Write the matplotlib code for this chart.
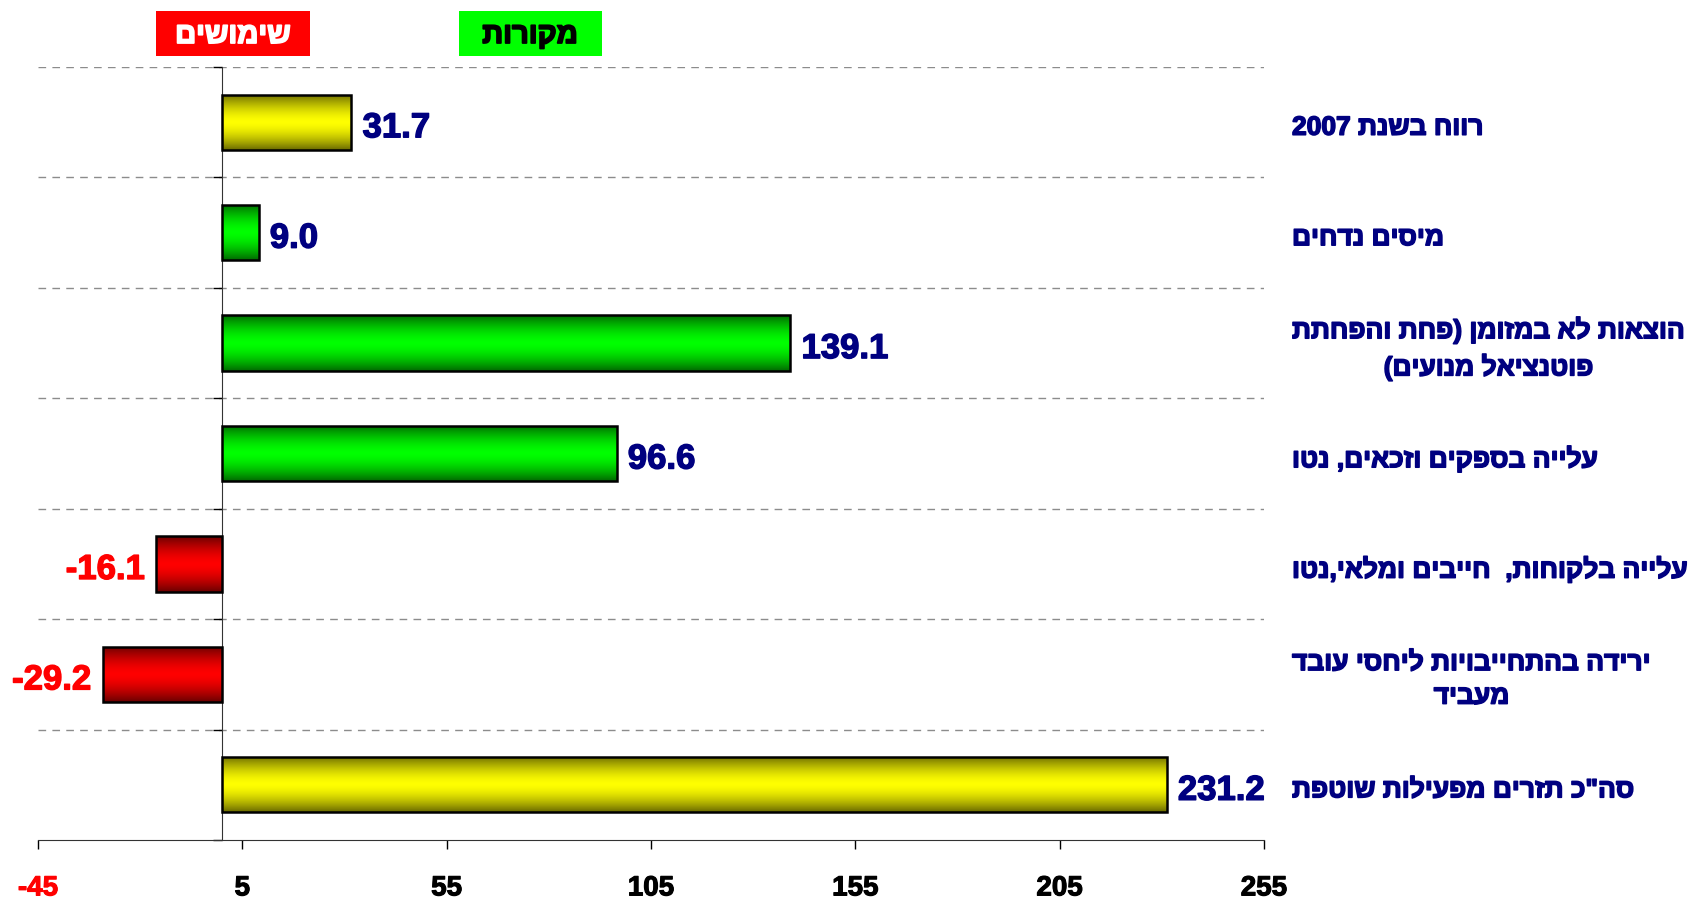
import re
import numpy as np
import matplotlib
matplotlib.use('Agg')
import matplotlib.pyplot as plt
from matplotlib import transforms, colors
from matplotlib import patheffects as pe
from matplotlib.patches import Rectangle

plt.rcParams['font.family'] = ['Liberation Sans', 'DejaVu Sans']
plt.rcParams['font.weight'] = 'bold'

# נתונים
categories = [
    'רווח בשנת 2007',
    'מיסים נדחים',
    'הוצאות לא במזומן (פחת והפחתת\nפוטנציאל מנועים)',
    'עלייה בספקים וזכאים, נטו',
    'עלייה בלקוחות,  חייבים ומלאי,נטו',
    'ירידה בהתחייבויות ליחסי עובד\nמעביד',
    'סה"כ תזרים מפעילות שוטפת',
]
values = [31.7, 9.0, 139.1, 96.6, -16.1, -29.2, 231.2]
bar_colors = ['#ffff00', '#00ff00', '#00ff00', '#00ff00', '#ff0000', '#ff0000', '#ffff00']
xticks = [-45, 5, 55, 105, 155, 205, 255]
legend_labels = ['שימושים', 'מקורות']

W, H = 1692, 902


def rtl(s):
    # matplotlib אינו תומך ב-bidi: הופכים כל שורה ידנית
    lines = []
    for line in s.split('\n'):
        r = line[::-1]
        r = re.sub(r'\d+(?:\.\d+)?', lambda m: m.group(0)[::-1], r)
        r = r.translate(str.maketrans('()', ')('))
        lines.append(r)
    return '\n'.join(lines)


def heavy(c, lw=1.0):
    return [pe.withStroke(linewidth=lw, foreground=c)]


fig = plt.figure(figsize=(W / 100, H / 100), dpi=100)
ax = fig.add_axes([38 / W, 1 - 840 / H, (1264 - 38) / W, (840 - 67) / H])

y = np.arange(len(values))
bars = ax.barh(y, values, height=0.5, color='none', edgecolor='black', linewidth=1.8, zorder=3)

# מילוי מדורג: כהה בקצוות, בהיר באמצע
t = np.linspace(-1, 1, 80)
shade = 0.42 + 0.58 * (1 - np.abs(t) ** 1.6)
for bar, c in zip(bars, bar_colors):
    rgb = np.array(colors.to_rgb(c))
    grad = shade[:, None, None] * rgb[None, None, :]
    x0, y0, w, h = bar.get_x(), bar.get_y(), bar.get_width(), bar.get_height()
    im = ax.imshow(grad, extent=[x0, x0 + w, y0 + h, y0], aspect='auto',
                   interpolation='bilinear', zorder=2)
    im.set_clip_path(bar)

ax.set_xlim(-45, 255)
ax.set_ylim(len(values) - 0.5, -0.5)

for b in np.arange(-0.5, len(values) - 0.5):
    ax.axhline(b, color='#8c8c8c', linestyle=(0, (5.5, 4.5)), linewidth=1, zorder=1)

ax.spines['top'].set_visible(False)
ax.spines['right'].set_visible(False)
ax.spines['left'].set_position(('data', 0))
ax.spines['left'].set_color('#333333')
ax.spines['bottom'].set_color('#333333')

ax.set_yticks(np.arange(-0.5, len(values), 1))
ax.set_yticklabels([])
ax.tick_params(axis='y', length=6.5, width=1, direction='out')

ax.set_xticks(xticks)
ax.set_xticklabels([str(v) for v in xticks], fontsize=20, fontweight='bold')
for k, tl in enumerate(ax.get_xticklabels()):
    c = '#ff0000' if k == 0 else 'black'
    tl.set_color(c)
    tl.set_path_effects(heavy(c, 0.8))
ax.tick_params(axis='x', length=6.5, width=1, direction='out', pad=19)

# ערכים
for i, v in enumerate(values):
    if v >= 0:
        ax.annotate(f'{v:.1f}', xy=(v, i), xytext=(8, -4), textcoords='offset points',
                    ha='left', va='center', fontsize=25, color='#000080', fontweight='bold',
                    path_effects=heavy('#000080', 1.0))
    else:
        ax.annotate(f'{v:.1f}', xy=(v, i), xytext=(-8, -4), textcoords='offset points',
                    ha='right', va='center', fontsize=25, color='#ff0000', fontweight='bold',
                    path_effects=heavy('#ff0000', 1.0))

# תוויות קטגוריות מימין
trans = transforms.blended_transform_factory(fig.transFigure, ax.transData)
trans = transforms.offset_copy(trans, fig=fig, x=0, y=-4, units='points')
for i, lab in enumerate(categories):
    ax.text(1292 / W, i, rtl(lab), transform=trans, ha='left', va='center',
            multialignment='center', linespacing=1.5, fontsize=19,
            color='#000080', fontweight='bold', clip_on=False,
            path_effects=heavy('#000080', 1.1))

# "מקרא"
fig.add_artist(Rectangle((156 / W, 1 - 56 / H), 154 / W, 45 / H, transform=fig.transFigure,
                         facecolor='#ff0000', edgecolor='none'))
fig.text(233 / W, 1 - 35 / H, rtl(legend_labels[0]), ha='center', va='center',
         color='white', fontsize=21, fontweight='bold', path_effects=heavy('white', 1.3))
fig.add_artist(Rectangle((459 / W, 1 - 56 / H), 143 / W, 45 / H, transform=fig.transFigure,
                         facecolor='#00ff00', edgecolor='none'))
fig.text(530 / W, 1 - 35 / H, rtl(legend_labels[1]), ha='center', va='center',
         color='black', fontsize=21, fontweight='bold', path_effects=heavy('black', 1.3))

fig.savefig('out.png', dpi=100)
